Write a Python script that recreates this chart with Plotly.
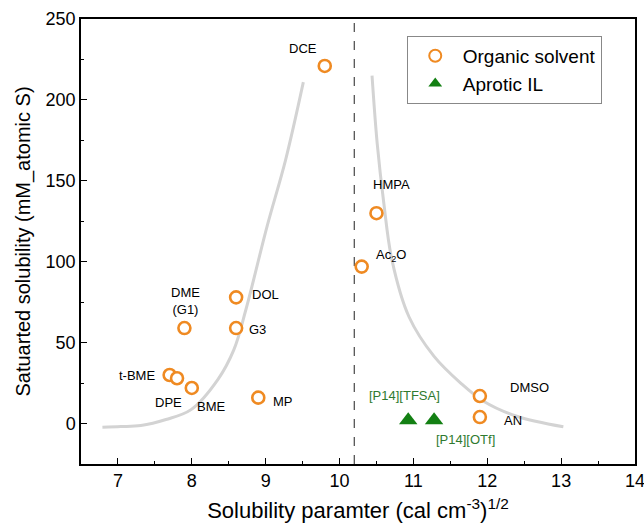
import plotly.graph_objects as go

# Organic solvents
solv_names = ["DCE", "HMPA", "Ac2O", "DOL", "G3", "DME", "t-BME", "DPE", "BME", "MP", "DMSO", "AN"]
solv_x = [9.8, 10.5, 10.3, 8.6, 8.6, 7.9, 7.7, 7.8, 8.0, 8.9, 11.9, 11.9]
solv_y = [221, 130, 97, 78, 59, 59, 30, 28, 22, 16, 17, 4]

# Aprotic ionic liquids
il_names = ["[P14][TFSA]", "[P14][OTf]"]
il_x = [10.93, 11.28]
il_y = [2, 2]

# Guide curves
left_x = [6.79, 7.04, 7.31, 7.65, 7.99, 8.35, 8.57, 8.73, 9.02, 9.27, 9.51]
left_y = [-2.3, -1.9, -1.2, 2.5, 8.6, 27, 45.7, 70, 122, 163, 211]
right_x = [10.44, 10.51, 10.6, 10.71, 10.94, 11.28, 11.64, 11.95, 12.4, 13.03]
right_y = [215, 173, 136, 101, 66, 41.5, 25, 13.8, 4.5, -2]

divider_x = 10.2

# Label positions
lab_text = ["DCE", "HMPA", "Ac<sub>2</sub>O", "DME<br>(G1)", "DOL", "G3", "t-BME", "DPE", "BME", "MP", "DMSO", "AN"]
lab_x = [9.5, 10.7, 10.7, 7.91, 9.0, 8.89, 7.26, 7.69, 8.27, 9.24, 12.57, 12.35]
lab_y = [232, 147.5, 104, 76, 80, 58, 29.6, 13, 10.5, 13.6, 22, 1.9]
il_lab_x = [10.88, 11.70]
il_lab_y = [17.3, -10]

orange = "#ef8a22"
green = "#138013"
green_txt = "#2f7a2f"

fig = go.Figure()
fig.add_trace(go.Scatter(x=left_x, y=left_y, mode="lines", line=dict(color="#d3d3d3", width=3, shape="spline"),
                         showlegend=False, hoverinfo="skip"))
fig.add_trace(go.Scatter(x=right_x, y=right_y, mode="lines", line=dict(color="#d3d3d3", width=3, shape="spline"),
                         showlegend=False, hoverinfo="skip"))
fig.add_trace(go.Scatter(x=[divider_x, divider_x], y=[-25, 250], mode="lines",
                         line=dict(color="#555555", width=1.3, dash="dash"), showlegend=False, hoverinfo="skip"))
fig.add_trace(go.Scatter(x=solv_x, y=solv_y, mode="markers", name="Organic solvent", text=solv_names,
                         marker=dict(symbol="circle", size=12, color="white", line=dict(color=orange, width=2.6))))
fig.add_trace(go.Scatter(x=il_x, y=il_y, mode="markers", name="Aprotic IL", text=il_names,
                         marker=dict(symbol="triangle-up", size=16, color=green, line=dict(width=0))))

for t, x, y in zip(lab_text, lab_x, lab_y):
    fig.add_annotation(x=x, y=y, text=t, showarrow=False, font=dict(size=13, color="black"))
for t, x, y in zip(il_names, il_lab_x, il_lab_y):
    fig.add_annotation(x=x, y=y, text=t, showarrow=False, font=dict(size=13, color=green_txt))

axis_common = dict(showline=True, linecolor="black", linewidth=1.5, mirror=True, ticks="inside",
                   ticklen=6, tickwidth=1.2, tickcolor="black", showgrid=False, zeroline=False,
                   automargin=False, ticklabeloverflow="allow", tickfont=dict(size=18, color="black"))
fig.update_xaxes(range=[6.5, 14], dtick=1, tick0=7,
                 minor=dict(ticks="inside", ticklen=3, tickwidth=1.2, tickcolor="black", dtick=0.5),
                 title=dict(text="Solubility paramter (cal cm<sup>-3</sup>)<sup>1/2</sup>", font=dict(size=22, color="black"), standoff=12),
                 **axis_common)
fig.update_yaxes(range=[-25, 250], dtick=50, tick0=0,
                 minor=dict(ticks="inside", ticklen=3, tickwidth=1.2, tickcolor="black", dtick=25),
                 title=dict(text="Satuarted solubility (mM_atomic S)", font=dict(size=20, color="black"), standoff=10),
                 **axis_common)

fig.update_layout(
    width=644, height=530,
    margin=dict(l=81, r=9, t=19, b=66),
    plot_bgcolor="white", paper_bgcolor="white",
    font=dict(family="Liberation Sans, Arial, sans-serif", color="black"),
    legend=dict(x=0.588, y=0.962, xanchor="left", yanchor="top", bgcolor="white",
                bordercolor="#888888", borderwidth=1, font=dict(size=19, color="black"),
                itemsizing="constant", itemwidth=45, tracegroupgap=0),
)

fig.write_html("out.html", config={"displayModeBar": False},
               post_script="document.body.style.margin='0';document.body.style.overflow='hidden';")
